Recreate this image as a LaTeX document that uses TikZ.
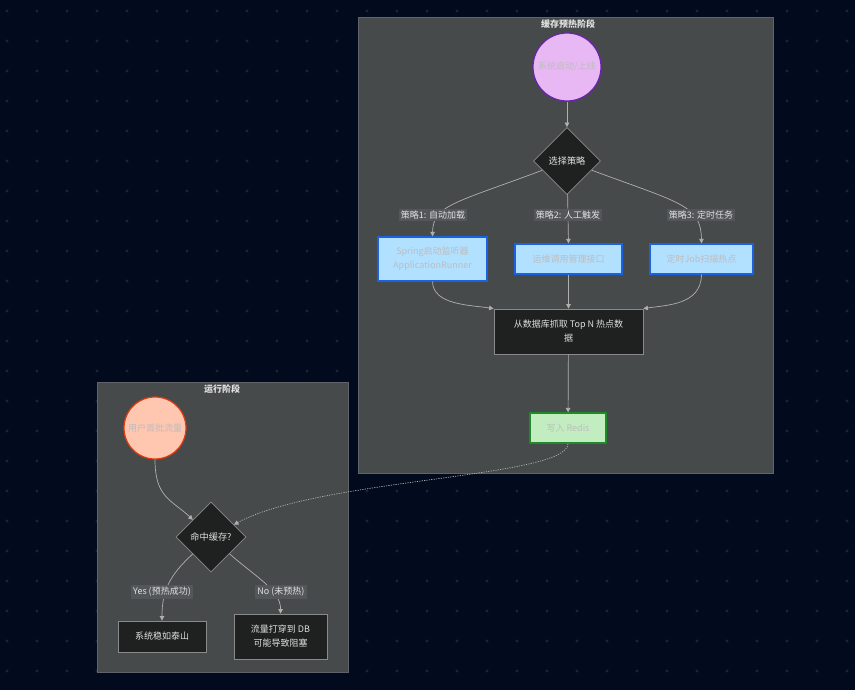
\documentclass[tikz,border=0pt]{standalone}
\usepackage{fontspec}
\setmainfont{Noto Sans CJK SC}
\usetikzlibrary{shapes.geometric,arrows.meta}
\definecolor{bgc}{HTML}{020A1E}
\definecolor{dotc}{HTML}{1C2433}
\definecolor{clfill}{HTML}{474A4B}
\definecolor{clline}{HTML}{60646A}
\definecolor{lblbg}{HTML}{54575A}
\definecolor{edgec}{HTML}{B0B0B0}
\definecolor{darkfill}{HTML}{1F2020}
\definecolor{darkline}{HTML}{8A8A8A}
\definecolor{txtlight}{HTML}{E0E0E0}
\definecolor{txtdim}{HTML}{BDBDBD}
\definecolor{purfill}{HTML}{E8B8F4}
\definecolor{purline}{HTML}{6A22B0}
\definecolor{bluefill}{HTML}{B2E0FF}
\definecolor{blueline}{HTML}{1A62E0}
\definecolor{greenfill}{HTML}{C2EDC0}
\definecolor{greenline}{HTML}{1E8A28}
\definecolor{salfill}{HTML}{FFC6B0}
\definecolor{salline}{HTML}{E03C10}
\tikzset{
  cluster/.style={draw=clline, fill=clfill, line width=0.8pt},
  cltitle/.style={text=txtlight, font=\fontsize{9}{10}\selectfont\bfseries, inner sep=0pt},
  circnode/.style={circle, line width=1.2pt, inner sep=0pt, text=txtdim, font=\fontsize{9}{11}\selectfont},
  dia/.style={diamond, draw=darkline, fill=darkfill, line width=0.7pt, inner sep=0pt, aspect=1, text=txtlight, font=\fontsize{9.2}{11}\selectfont},
  darkbox/.style={rectangle, draw=darkline, fill=darkfill, line width=0.8pt, text=txtlight, font=\fontsize{9}{14}\selectfont, align=center, inner sep=0pt},
  bluebox/.style={rectangle, draw=blueline, fill=bluefill, line width=1.2pt, text=txtdim, font=\fontsize{9}{14}\selectfont, align=center, inner sep=0pt},
  greenbox/.style={rectangle, draw=greenline, fill=greenfill, line width=1.2pt, text=txtdim, font=\fontsize{9}{11}\selectfont, align=center, inner sep=0pt},
  elabel/.style={fill=lblbg, text=txtlight, font=\fontsize{9}{10}\selectfont, inner sep=2pt},
  edge/.style={draw=edgec, line width=0.7pt, -{Triangle[length=4.5pt,width=4.5pt]}},
  dotedge/.style={edge, dash pattern=on 1.2pt off 1.2pt},
}
\begin{document}
\begin{tikzpicture}[x=1pt,y=-1pt]
\fill[bgc] (0,0) rectangle (855,690);
\useasboundingbox (0,0) rectangle (855,690);
\foreach \i in {0,...,28} {
  \foreach \j in {0,...,22} {
    \fill[dotc] ({7+30*\i},{11+30*\j}) circle (1.6pt);
  }
}
% clusters
\node[cluster, minimum width=415pt, minimum height=456pt, anchor=north west, inner sep=0pt] (cl1) at (358,17) {};
\node[cltitle] (t1) at (568,24) {缓存预热阶段};
\node[cluster, minimum width=251pt, minimum height=290pt, anchor=north west, inner sep=0pt] (cl2) at (97,382) {};
\node[cltitle] (t2) at (222,389) {运行阶段};
% warmup nodes
\node[circnode, draw=purline, fill=purfill, minimum size=68pt] (A) at (567,67) {系统启动/上线};
\node[dia, minimum width=67pt, minimum height=67pt] (B) at (567,161) {选择策略};
\node[bluebox, minimum width=109pt, minimum height=44pt] (C1) at (432.5,259) {Spring启动监听器\\ApplicationRunner};
\node[bluebox, minimum width=107pt, minimum height=30pt] (C2) at (568.5,259) {运维调用管理接口};
\node[bluebox, minimum width=103pt, minimum height=30pt] (C3) at (701.5,259) {定时Job扫描热点};
\node[darkbox, minimum width=149pt, minimum height=45pt] (D) at (568.5,331.5) {从数据库抓取 Top N 热点数\\据};
\node[greenbox, minimum width=76pt, minimum height=30pt] (E) at (568,428) {写入 Redis};
% run nodes
\node[circnode, draw=salline, fill=salfill, minimum size=62pt] (F) at (155,428) {用户首批流量};
\node[dia, minimum width=70pt, minimum height=70pt] (G) at (211,537) {命中缓存?};
\node[darkbox, minimum width=88pt, minimum height=31pt] (H) at (162,636.5) {系统稳如泰山};
\node[darkbox, minimum width=93pt, minimum height=45pt] (I) at (280.5,636.5) {流量打穿到 DB\\可能导致阻塞};
% edges
\draw[edge] (A) -- (B);
\draw[edge] (B) .. controls (455,203) and (433,205) .. (C1.north);
\draw[edge] (B) -- (C2.north);
\draw[edge] (B) .. controls (680,203) and (701,205) .. (C3.north);
\draw[edge] (C1.south) .. controls (433,305) and (470,305) .. (D.north west);
\draw[edge] (C2.south) -- (D.north);
\draw[edge] (C3.south) .. controls (701,305) and (667,305) .. (D.north east);
\draw[edge] (D) -- (E);
\draw[dotedge] (E.south) .. controls (568,478) and (320,478) .. (G);
\draw[edge] (F.south) .. controls (155,498) and (172,500) .. (G);
\draw[edge] (G) .. controls (170,575) and (162,590) .. (H.north);
\draw[edge] (G) .. controls (253,575) and (281,590) .. (I.north);
% labels
\node[elabel] (L1) at (433,215) {策略1: 自动加载};
\node[elabel] (L2) at (568,215) {策略2: 人工触发};
\node[elabel] (L3) at (701,215) {策略3: 定时任务};
\node[elabel] (L4) at (162,592) {Yes (预热成功)};
\node[elabel] (L5) at (281,592) {No (未预热)};
\end{tikzpicture}
\end{document}
